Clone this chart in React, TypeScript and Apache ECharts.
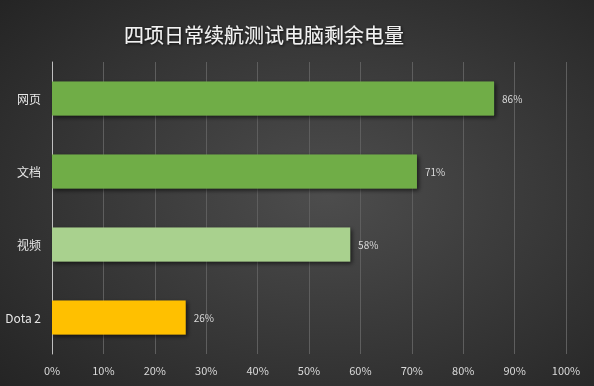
import React, { useEffect, useRef } from "react";
import * as echarts from "echarts";

const titleText = "四项日常续航测试电脑剩余电量";
const categories = ["网页", "文档", "视频", "Dota 2"];
const values = [86, 71, 58, 26];
const barColors = ["#70AD47", "#70AD47", "#A9D18E", "#FFC000"];

export default function App() {
  const ref = useRef<HTMLDivElement>(null);
  useEffect(() => {
    if (!ref.current) return;
    const chart = echarts.init(ref.current, null, { renderer: "svg" });
    const font = "'Noto Sans CJK SC', 'Noto Sans', sans-serif";
    chart.setOption({
      animation: false,
      backgroundColor: {
        type: "radial",
        x: 0.55,
        y: 0.5,
        r: 0.75,
        colorStops: [
          { offset: 0, color: "#4d4d4d" },
          { offset: 1, color: "#242424" },
        ],
      },
      title: {
        text: titleText,
        left: 259,
        textAlign: "center",
        top: 19,
        textStyle: {
          color: "#f2f2f2",
          fontSize: 20,
          fontWeight: "normal",
          fontFamily: font,
          textShadowColor: "rgba(0,0,0,0.8)",
          textShadowBlur: 3,
          textShadowOffsetX: 1,
          textShadowOffsetY: 1,
        },
      },
      grid: { left: 52, right: 28, top: 62, bottom: 32, containLabel: false },
      xAxis: {
        type: "value",
        min: 0,
        max: 100,
        interval: 10,
        axisLine: { show: false },
        axisTick: { show: false },
        axisLabel: {
          color: "#d9d9d9",
          fontSize: 11,
          fontFamily: font,
          margin: 10,
          formatter: (v: number) => v + "%",
        },
        splitLine: { show: true, lineStyle: { color: "#5e5e5e", width: 1 } },
      },
      yAxis: {
        type: "category",
        data: categories,
        inverse: true,
        axisLine: { show: true, lineStyle: { color: "#bfbfbf", width: 1 } },
        axisTick: { show: false },
        axisLabel: { color: "#e6e6e6", fontSize: 12, fontFamily: font, margin: 11 },
        splitLine: { show: false },
      },
      series: [
        {
          type: "bar",
          data: values.map((v, i) => ({ value: v, itemStyle: { color: barColors[i] } })),
          barWidth: 34,
          itemStyle: {
            shadowColor: "rgba(0,0,0,0.6)",
            shadowBlur: 4,
            shadowOffsetX: 2,
            shadowOffsetY: 2,
          },
          label: {
            show: true,
            position: "right",
            distance: 8,
            color: "#d9d9d9",
            fontSize: 10,
            fontFamily: font,
            formatter: (p: any) => p.value + "%",
          },
        },
      ],
    });
    return () => chart.dispose();
  }, []);
  return (
    <div
      ref={ref}
      style={{ position: "fixed", left: 0, top: 0, width: 594, height: 386 }}
    />
  );
}
